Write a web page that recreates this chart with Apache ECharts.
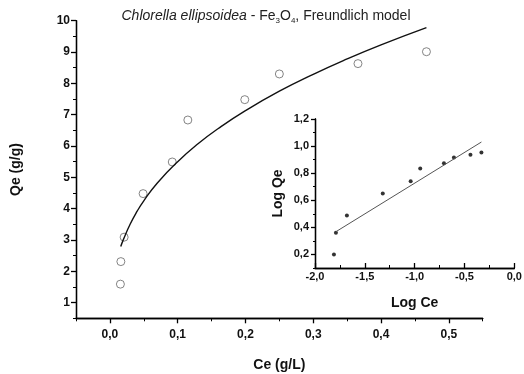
<!DOCTYPE html>
<html>
<head>
<meta charset="utf-8">
<script src="https://cdn.jsdelivr.net/npm/echarts@6/dist/echarts.min.js"></script>
<style>
  html, body { margin: 0; padding: 0; background: #fff; }
  #chart { width: 524px; height: 374px; }
</style>
</head>
<body>
<div id="chart"></div>
<script>
// main plot: measured points (Ce g/L, Qe g/g)
const ceData = [0.0155, 0.0162, 0.021, 0.049, 0.092, 0.115, 0.199, 0.250, 0.366, 0.467]
const qeData = [1.59, 2.31, 3.09, 4.48, 5.49, 6.83, 7.48, 8.30, 8.63, 9.01]
// Freundlich curve
const fitCe = [0.016, 0.02, 0.03, 0.04, 0.05, 0.07, 0.10, 0.13, 0.16, 0.20, 0.25, 0.30, 0.35, 0.40, 0.467]
const fitQe = [2.79, 3.02, 3.51, 3.91, 4.25, 4.82, 5.50, 6.07, 6.56, 7.13, 7.75, 8.29, 8.78, 9.23, 9.78]
// inset: log-log points and linear fit
const logCe = [-1.81, -1.79, -1.68, -1.32, -1.04, -0.944, -0.706, -0.606, -0.44, -0.33]
const logQe = [0.20, 0.36, 0.487, 0.65, 0.74, 0.835, 0.874, 0.916, 0.936, 0.953]
const lineX = [-1.79, -0.33]
const lineY = [0.368, 1.03]
// tick labels
const mainXTicks = [0, 0.1, 0.2, 0.3, 0.4, 0.5]
const mainYTicks = [1, 2, 3, 4, 5, 6, 7, 8, 9, 10]
const insetXTicks = [-2, -1.5, -1, -0.5, 0]
const insetYTicks = [0.2, 0.4, 0.6, 0.8, 1.0, 1.2]

const font = 'Liberation Sans, Arial, sans-serif'
const comma = (v) => v.toFixed(1).replace('.', ',')
const zip = (a, b) => a.map((v, i) => [v, b[i]])

const lineStyle = { color: '#000', width: 1.3 }
const nameStyle = { fontFamily: font, fontWeight: 'bold', fontSize: 14, color: '#111' }

// major axis (labels + long ticks) plus a bare axis for the minor ticks
function axisPair(base, ticks, minorStep, tickLen, inside, labelSize, margin, nameOpts) {
  const major = Object.assign({}, base, nameOpts, {
    type: 'value',
    axisLine: { show: true, onZero: false, lineStyle },
    axisTick: { show: true, customValues: ticks, length: tickLen, inside, lineStyle },
    axisLabel: {
      customValues: ticks, formatter: comma, margin,
      fontFamily: font, fontWeight: 'bold', fontSize: labelSize, color: '#111',
    },
    splitLine: { show: false },
  })
  const minor = Object.assign({}, base, {
    type: 'value',
    interval: minorStep,
    axisLine: { show: true, onZero: false, lineStyle },
    axisTick: { show: true, length: tickLen - 2, inside, lineStyle: { color: '#000', width: 1 } },
    axisLabel: { show: false },
    splitLine: { show: false },
  })
  return [major, minor]
}

const xAxes = [
  ...axisPair({ gridIndex: 0, position: 'bottom', min: -0.05, max: 0.55 }, mainXTicks, 0.05, 5, false, 12, 10,
    { name: 'Ce (g/L)', nameLocation: 'middle', nameGap: 40, nameTextStyle: nameStyle }),
  ...axisPair({ gridIndex: 1, position: 'bottom', min: -2, max: 0 }, insetXTicks, 0.25, 5, true, 11, 3,
    { name: 'Log Ce', nameLocation: 'middle', nameGap: 28, nameTextStyle: nameStyle }),
]
const yAxes = [
  ...axisPair({ gridIndex: 0, position: 'left', min: 0.5, max: 10 }, mainYTicks, 0.5, 5, false, 12, 6,
    { name: 'Qe (g/g)', nameLocation: 'middle', nameGap: 53, nameTextStyle: nameStyle }),
  ...axisPair({ gridIndex: 1, position: 'left', min: 0.1, max: 1.2 }, insetYTicks, 0.1, 4, false, 11, 6,
    { name: 'Log Qe', nameLocation: 'middle', nameGap: 30, nameTextStyle: nameStyle }),
]
// main y labels are integers
yAxes[0].axisLabel.formatter = (v) => String(Math.round(v))

const titleBase = { fontFamily: font, fontWeight: 'normal', fontSize: 14, color: '#222', lineHeight: 16 }

const chart = echarts.init(document.getElementById('chart'), null, { renderer: 'canvas' })
chart.setOption({
  animation: false,
  backgroundColor: '#fff',
  title: {
    left: 261,
    textAlign: 'center',
    top: 3,
    text: '{i|Chlorella ellipsoidea}{n| - Fe}{s|3}{n|O}{s|4}{n|, Freundlich model}',
    textStyle: {
      fontWeight: 'normal',
      rich: {
        i: { ...titleBase, fontStyle: 'italic' },
        n: { ...titleBase },
        s: { ...titleBase, fontSize: 8, padding: [9, 0, 0, 0] },
      },
    },
  },
  grid: [
    { left: 76, top: 20.7, width: 406.7, height: 297.6, containLabel: false, outerBoundsMode: 'none' },
    { left: 315, top: 119, width: 199.3, height: 149, containLabel: false, outerBoundsMode: 'none' },
  ],
  xAxis: xAxes,
  yAxis: yAxes,
  series: [
    {
      type: 'line',
      xAxisIndex: 0, yAxisIndex: 0,
      data: zip(fitCe, fitQe),
      smooth: true,
      showSymbol: false,
      lineStyle: { color: '#111', width: 1.4 },
    },
    {
      type: 'scatter',
      xAxisIndex: 0, yAxisIndex: 0,
      data: zip(ceData, qeData),
      symbol: 'circle',
      symbolSize: 8,
      itemStyle: { color: '#fff', borderColor: '#666', borderWidth: 1 },
    },
    {
      type: 'line',
      xAxisIndex: 2, yAxisIndex: 2,
      data: zip(lineX, lineY),
      showSymbol: false,
      lineStyle: { color: '#555', width: 1 },
    },
    {
      type: 'scatter',
      xAxisIndex: 2, yAxisIndex: 2,
      data: zip(logCe, logQe),
      symbol: 'circle',
      symbolSize: 4,
      itemStyle: { color: '#000' },
    },
  ],
})
</script>
</body>
</html>
